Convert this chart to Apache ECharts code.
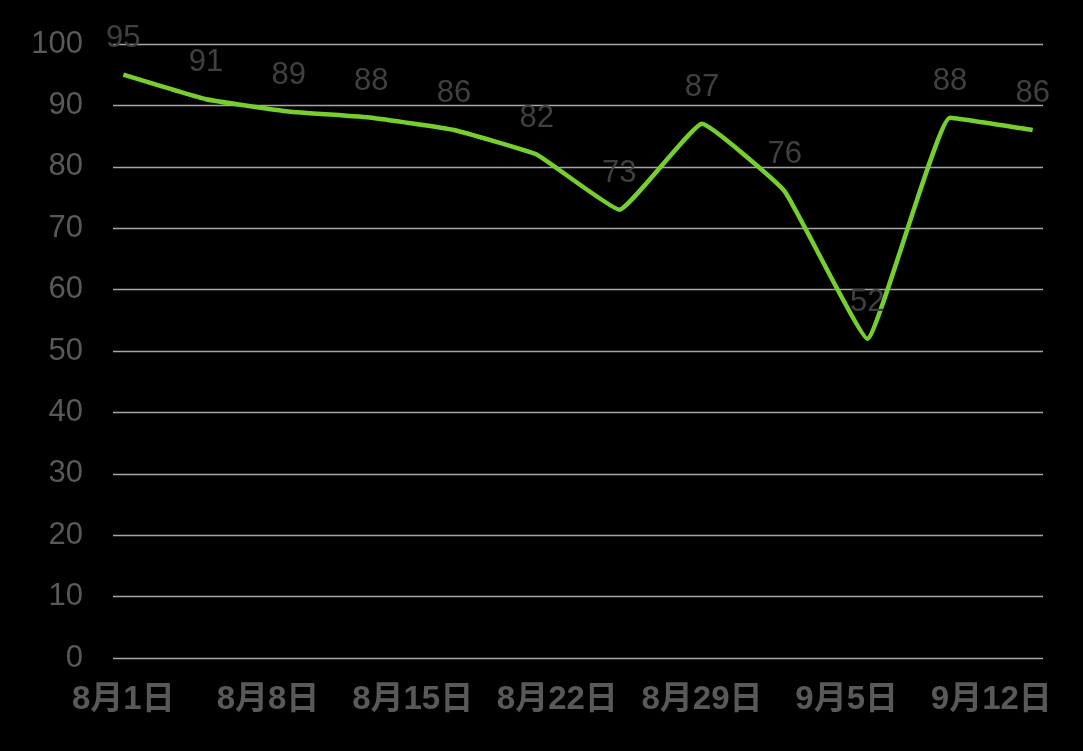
<!DOCTYPE html>
<html><head><meta charset="utf-8">
<script src="https://cdn.jsdelivr.net/npm/echarts@6/dist/echarts.min.js"></script>
<style>html,body{margin:0;padding:0;background:#000;}#c{width:1083px;height:751px;}</style>
</head><body><div id="c"></div>
<script>
const dates = ['8/1','8/5','8/9','8/13','8/17','8/21','8/25','8/29','9/2','9/6','9/10','9/14'];
const values = [95, 91, 89, 88, 86, 82, 73, 87, 76, 52, 88, 86];
const tickDates = ['8/1','8/8','8/15','8/22','8/29','9/5','9/12'];
const yTicks = [0,10,20,30,40,50,60,70,80,90,100];

function dayIndex(s){
  const [m,d] = s.split('/').map(Number);
  const t = Date.UTC(2020, m-1, d);
  return Math.round((t - Date.UTC(2020,7,1))/86400000);
}
const tickIdx = tickDates.map(dayIndex);
const tickLabel = {};
tickDates.forEach(s=>{const [m,d]=s.split('/');tickLabel[dayIndex(s)]=m+'月'+d+'日';});
const data = dates.map((s,i)=>[dayIndex(s), values[i]]);
const lastIdx = dayIndex(dates[dates.length-1]);
const FONT = '"Liberation Sans", Arial, "Noto Sans CJK SC", sans-serif';

const chart = echarts.init(document.getElementById('c'));
chart.setOption({
  backgroundColor:'#000',
  animation:false,
  grid:{left:113, right:40, top:44, bottom:93},
  xAxis:{
    type:'value', min:-0.5, max:lastIdx+0.5,
    axisLine:{show:false}, axisTick:{show:false}, splitLine:{show:false},
    axisLabel:{
      customValues: tickIdx,
      formatter:v=>tickLabel[Math.round(v)]||'',
      color:'#595959', fontSize:33, fontWeight:'bold', fontFamily:FONT, margin:25
    }
  },
  yAxis:{
    type:'value', min:yTicks[0], max:yTicks[yTicks.length-1], interval:10,
    axisLine:{show:false}, axisTick:{show:false},
    splitLine:{lineStyle:{color:'#a6a6a6', width:1.3}},
    axisLabel:{color:'#595959', fontSize:31, fontFamily:FONT, margin:30}
  },
  series:[{
    type:'line', data:data, smooth:0.1, symbol:'circle', symbolSize:0, showSymbol:true,
    lineStyle:{color:'#75CF2E', width:4.5},
    itemStyle:{color:'#75CF2E'},
    label:{show:true, position:'top', distance:21, color:'#404040', fontSize:31, fontFamily:FONT}
  }]
});
</script></body></html>
